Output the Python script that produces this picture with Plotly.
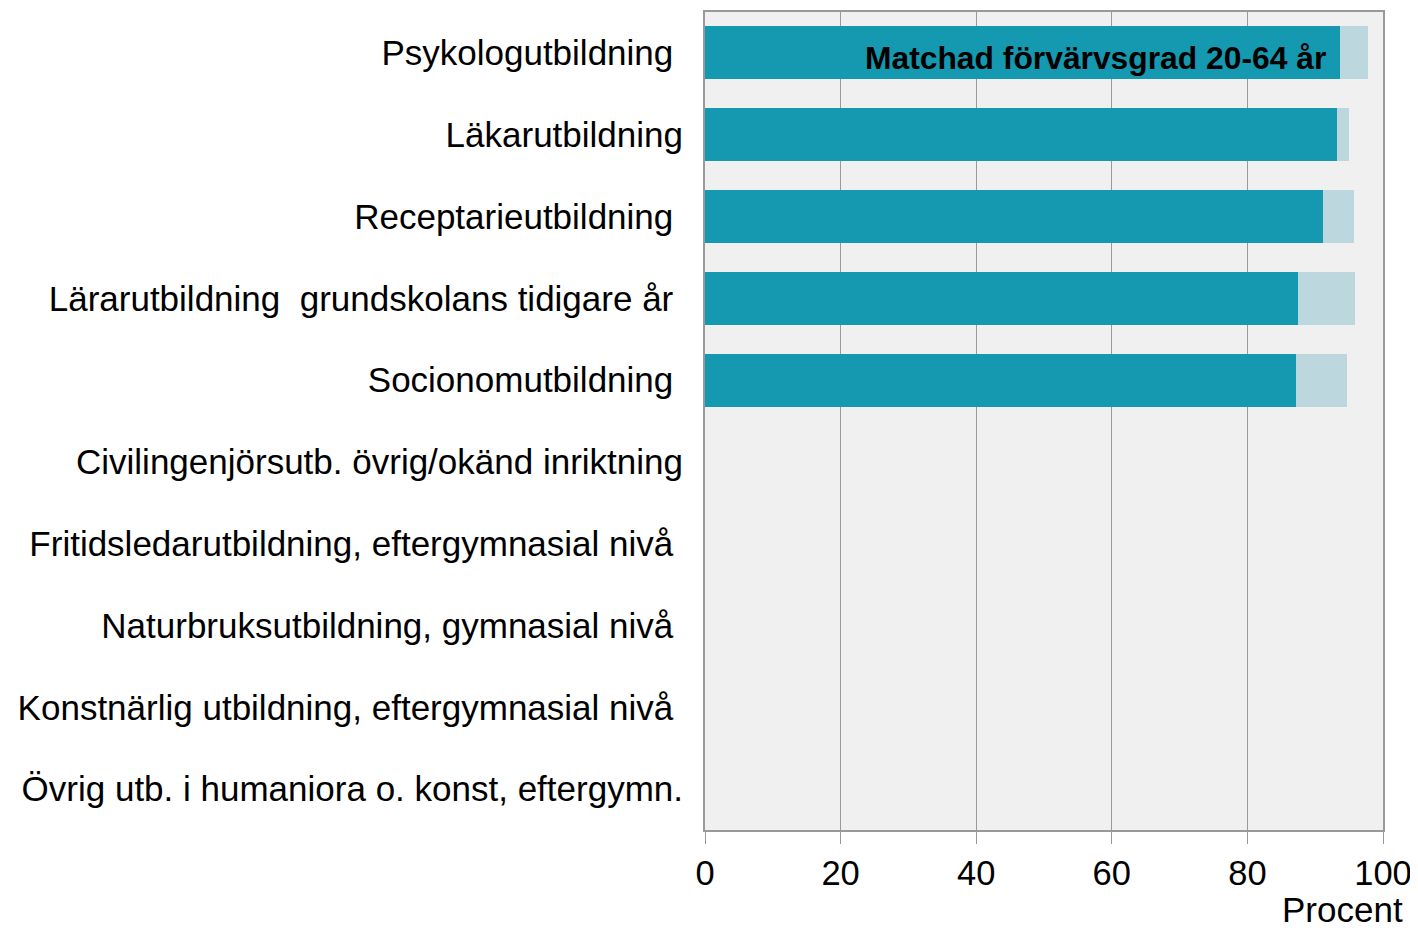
import plotly.graph_objects as go

# categories, top to bottom
categories = [
    "Psykologutbildning\u00a0",
    "Läkarutbildning",
    "Receptarieutbildning\u00a0",
    "Lärarutbildning \u00a0grundskolans tidigare år\u00a0",
    "Socionomutbildning\u00a0",
    "Civilingenjörsutb. övrig/okänd inriktning",
    "Fritidsledarutbildning, eftergymnasial nivå\u00a0",
    "Naturbruksutbildning, gymnasial nivå\u00a0",
    "Konstnärlig utbildning, eftergymnasial nivå\u00a0",
    "Övrig utb. i humaniora o. konst, eftergymn.",
]
# matchad förvärvsgrad (dark) and remaining förvärvsgrad (light), percent
matchad = [93.7, 93.2, 91.2, 87.4, 87.1, None, None, None, None, None]
ovrig = [4.1, 1.8, 4.5, 8.4, 7.6, None, None, None, None, None]
x_ticks = [0, 20, 40, 60, 80, 100]

FONT = "Liberation Sans, Arial, sans-serif"

fig = go.Figure()
fig.add_trace(go.Bar(y=categories, x=matchad, orientation="h",
                     marker=dict(color="#1499B0", line=dict(width=0)),
                     name="Matchad förvärvsgrad 20-64 år"))
fig.add_trace(go.Bar(y=categories, x=ovrig, orientation="h",
                     marker=dict(color="#BDD7DF", line=dict(width=0)),
                     name="Förvärvsgrad"))

# page has an 8px body margin, so the figure is a bit smaller than the window
fig.update_layout(
    barmode="stack",
    bargap=0.35,
    width=1410, height=920,
    margin=dict(l=697, r=35, t=4, b=98),
    plot_bgcolor="#F0F0F0",
    paper_bgcolor="white",
    showlegend=False,
    font=dict(family=FONT, color="black"),
)
fig.update_xaxes(
    range=[0, 100], tickvals=x_ticks, ticks="outside", ticklen=12,
    tickcolor="#999999", showgrid=True, gridcolor="#999999", gridwidth=1,
    showline=True, linecolor="#999999", linewidth=2, mirror=True,
    tickfont=dict(size=34.5), zeroline=False, automargin=False,
)
fig.update_yaxes(
    categoryorder="array", categoryarray=categories, autorange="reversed",
    showline=True, linecolor="#999999", linewidth=2, mirror=True,
    tickfont=dict(size=35), ticks="", ticklabelstandoff=13, automargin=False,
)
fig.add_annotation(x=91.9, y=categories[0], xref="x", yref="y",
                   text="<b>Matchad förvärvsgrad 20-64 år</b>", showarrow=False,
                   xanchor="right", yshift=-5, font=dict(size=31.8, family=FONT))
fig.add_annotation(xref="x domain", yref="y domain",
                   x=(1405 - 705) / 678, y=-(909 - 830) / 818,
                   text="Procent", showarrow=False, xanchor="right", yanchor="middle",
                   font=dict(size=35, family=FONT))

fig.write_html("out.html")
